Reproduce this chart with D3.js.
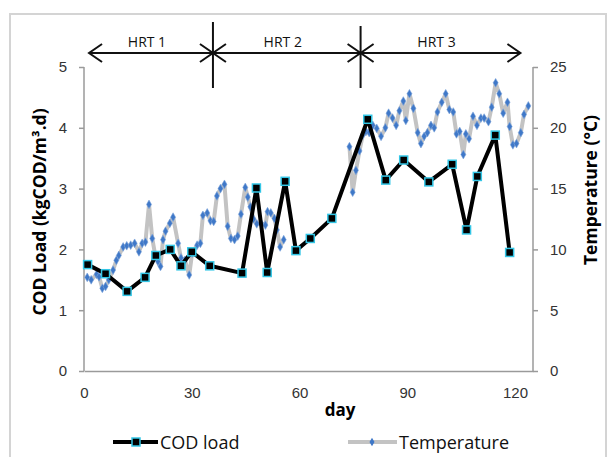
<!DOCTYPE html>
<html>
<head>
<meta charset="utf-8">
<script src="https://cdn.jsdelivr.net/npm/d3@7"></script>
<style>
  body { margin: 0; background: #fff; }
  svg { display: block; font-family: "Open Sans", "DejaVu Sans", sans-serif; }
</style>
</head>
<body>
<svg id="svg" width="608" height="457"></svg>
<script>
// COD load (kgCOD/m3.d) per sampling day
var codDays = [1, 6, 12, 17, 20, 24, 27, 30, 35, 44, 48, 51, 56, 59, 63, 69, 79, 84, 89, 96, 102.5, 106.5, 109.5, 114.5, 118.5];
var codLoad = [1.75, 1.6, 1.31, 1.54, 1.9, 2.0, 1.73, 1.96, 1.73, 1.61, 3.01, 1.62, 3.12, 1.98, 2.18, 2.51, 4.14, 3.14, 3.47, 3.11, 3.40, 2.32, 3.20, 3.88, 1.95];

// temperature (oC), null = no reading (gap in the line)
var tempDays = [0.9, 2.0, 3.5, 4.2, 5.1, 6.0, 6.9, 8.1, 9.0, 9.7, 10.9, 11.9, 13.0, 14.1, 15.3, 16.2, 17.1, 18.1, 19.0, 19.9,
  20.6, 21.3, 22.0, 22.7, 23.9, 24.8, 26.2, 27.0, 28.1, 29.3, 30.1, 31.5, 32.4, 33.1, 34.3, 35.2, 36.1, 37.0, 38.0, 39.1,
  40.0, 40.9, 41.9, 42.8, 43.7, 44.9, 45.6, 46.3, 47.2, 48.1, 49.3, 50.5, 51.1, 52.0, 53.0, 53.7, 54.6, 55.6, 65,
  73.9, 74.8, 75.7, 76.7, 77.6, 78.5, 79.4, 80.4, 81.5, 82.7, 83.9, 84.8, 85.9, 86.9, 87.8, 88.9, 89.6, 90.6, 91.7, 92.9,
  93.8, 94.7, 95.6, 96.6, 97.5, 98.4, 99.6, 100.7, 101.7, 102.8, 103.7, 104.6, 105.6, 106.3, 107.2, 108.3, 109.4, 110.5,
  111.4, 112.6, 113.5, 114.6, 115.6, 116.7, 117.9, 118.5, 119.4, 120.4, 121.6, 122.5, 123.7];
var temperature = [7.7, 7.5, 7.95, 7.75, 6.8, 6.95, 7.5, 8.3, 9.1, 9.5, 10.2, 10.3, 10.35, 10.5, 9.8, 10.5, 10.6, 13.7, 10.9, 9.4,
  9.0, 8.6, 10.8, 11.5, 12.15, 12.65, 10.5, 9.3, 9.1, 7.9, 9.7, 10.35, 10.5, 12.8, 13.0, 12.35, 12.3, 14.4, 15.0, 15.35,
  11.9, 10.9, 10.8, 11.1, 12.9, 15.1, 14.3, 13.5, 12.5, 12.1, 12.15, 12.0, 13.1, 13.0, 12.55, 11.6, 10.2, 10.8, null,
  18.45, 14.7, 16.5, 18.1, 19.4, 19.7, 19.6, 20.2, 19.95, 19.3, 20.0, 21.2, 20.8, 20.2, 21.4, 22.2, 20.6, 22.8, 21.6, 19.6,
  18.7, 19.3, 19.6, 20.2, 20.0, 21.3, 22.1, 22.8, 21.5, 21.3, 19.5, 19.7, 17.8, 19.5, 19.1, 20.95, 20.2, 20.8,
  20.8, 20.5, 21.7, 23.7, 22.8, 21.2, 22.1, 20.1, 18.6, 18.7, 19.6, 21.1, 21.8];

var dayTicks = [0, 30, 60, 90, 120];
var codTicks = [0, 1, 2, 3, 4, 5];
var tempTicks = [0, 5, 10, 15, 20, 25];

// HRT periods (day boundaries of the arrows)
var hrtNames = ["HRT 1", "HRT 2", "HRT 3"];
var hrtStart = [1.4, 35.9, 77.0];
var hrtEnd = [35.9, 77.0, 121.5];

var svg = d3.select("#svg");

var plot = { left: 84, right: 533, top: 67, bottom: 371 };

var x = d3.scaleLinear().domain([0, 125]).range([plot.left, plot.right]);
var yCod = d3.scaleLinear().domain([0, 5]).range([plot.bottom, plot.top]);
var yTemp = d3.scaleLinear().domain([0, 25]).range([plot.bottom, plot.top]);

var axisColor = "#9a9a9a",
    labelColor = "#333";

// outer frame
svg.append("rect")
    .attr("x", 10).attr("y", 14)
    .attr("width", 596).attr("height", 470)
    .attr("fill", "none")
    .attr("stroke", "#d4d4d4")
    .attr("stroke-width", 2);

/*
* axes
*/
var gx = svg.append("g")
    .attr("transform", "translate(0," + plot.bottom + ")")
    .call(d3.axisBottom(x).tickValues(dayTicks).tickSize(0).tickPadding(16));

var gl = svg.append("g")
    .attr("transform", "translate(" + plot.left + ",0)")
    .call(d3.axisLeft(yCod).tickValues(codTicks).tickFormat(d3.format("d")).tickSize(5).tickPadding(12));

var gr = svg.append("g")
    .attr("transform", "translate(" + plot.right + ",0)")
    .call(d3.axisRight(yTemp).tickValues(tempTicks).tickSize(5).tickPadding(12));

[gx, gl, gr].forEach(function(g) {
  g.select(".domain").attr("stroke", axisColor).attr("stroke-width", 1.5);
  g.selectAll(".tick line").attr("stroke", axisColor).attr("stroke-width", 1.5);
  g.selectAll(".tick text")
      .attr("fill", labelColor)
      .style("font-size", "15px");
});
gl.select(".domain").attr("d", "M0," + plot.top + "V" + plot.bottom);
gr.select(".domain").attr("d", "M0," + plot.top + "V" + plot.bottom);

// axis titles
svg.append("text")
    .attr("transform", "translate(46,212) rotate(-90)")
    .attr("text-anchor", "middle")
    .style("font-size", "17.5px")
    .style("font-weight", "bold")
    .text("COD Load (kgCOD/m³.d)");

svg.append("text")
    .attr("transform", "translate(597,190) rotate(-90)")
    .attr("text-anchor", "middle")
    .style("font-size", "17.5px")
    .style("font-weight", "bold")
    .text("Temperature (°C)");

svg.append("text")
    .attr("x", 340).attr("y", 416)
    .attr("text-anchor", "middle")
    .style("font-size", "17px")
    .style("font-weight", "bold")
    .text("day");

/*
* temperature series (drawn first, under the COD line)
*/
var tempData = tempDays.map(function(d, i) { return { day: d, v: temperature[i] }; });

var tempLine = d3.line()
    .defined(function(d) { return d.v !== null; })
    .x(function(d) { return x(d.day); })
    .y(function(d) { return yTemp(d.v); });

svg.append("path")
    .datum(tempData)
    .attr("d", tempLine)
    .attr("fill", "none")
    .attr("stroke", "#c3c3c3")
    .attr("stroke-width", 4)
    .attr("stroke-linejoin", "round");

var diamond = d3.symbol().type(d3.symbolDiamond).size(22);

svg.append("g").selectAll("path")
    .data(tempData.filter(function(d) { return d.v !== null; }))
    .enter().append("path")
    .attr("d", diamond)
    .attr("transform", function(d) { return "translate(" + x(d.day) + "," + yTemp(d.v) + ")"; })
    .attr("fill", "#3f78c8")
    .attr("stroke", "#7fa6dc")
    .attr("stroke-width", 0.6);

/*
* COD load series
*/
var codData = codDays.map(function(d, i) { return { day: d, v: codLoad[i] }; });

var codLine = d3.line()
    .x(function(d) { return x(d.day); })
    .y(function(d) { return yCod(d.v); });

svg.append("path")
    .datum(codData)
    .attr("d", codLine)
    .attr("fill", "none")
    .attr("stroke", "#000")
    .attr("stroke-width", 4)
    .attr("stroke-linejoin", "round");

svg.append("g").selectAll("rect")
    .data(codData)
    .enter().append("rect")
    .attr("x", function(d) { return x(d.day) - 4; })
    .attr("y", function(d) { return yCod(d.v) - 4; })
    .attr("width", 8).attr("height", 8)
    .attr("fill", "#000")
    .attr("stroke", "#33c6e6")
    .attr("stroke-width", 1.5);

/*
* HRT arrows on top
*/
var arrowY = 53;
var hrt = svg.append("g").attr("stroke", "#111").attr("fill", "none").attr("stroke-width", 2);

function arrowHead(px, dir) {
  // dir = +1 points right, -1 points left
  return "M" + (px - dir * 13) + "," + (arrowY - 9) + "L" + px + "," + arrowY + "L" + (px - dir * 13) + "," + (arrowY + 9);
}

hrtNames.forEach(function(name, i) {
  var x0 = x(hrtStart[i]), x1 = x(hrtEnd[i]);
  hrt.append("line").attr("x1", x0).attr("x2", x1).attr("y1", arrowY).attr("y2", arrowY);
  hrt.append("path").attr("d", arrowHead(x0, -1));
  hrt.append("path").attr("d", arrowHead(x1, 1));
  svg.append("text")
      .attr("x", (x0 + x1) / 2 - 4).attr("y", 47)
      .attr("text-anchor", "middle")
      .style("font-size", "14px")
      .attr("fill", "#111")
      .text(name);
});

// period boundaries
hrt.append("line").attr("x1", x(hrtEnd[0])).attr("x2", x(hrtEnd[0])).attr("y1", 22).attr("y2", 88);
hrt.append("line").attr("x1", x(hrtEnd[1])).attr("x2", x(hrtEnd[1])).attr("y1", 26).attr("y2", 88);

/*
* legend
*/
var legend = svg.append("g");

legend.append("line").attr("x1", 113).attr("x2", 158).attr("y1", 442).attr("y2", 442)
    .attr("stroke", "#000").attr("stroke-width", 4);
legend.append("rect").attr("x", 132).attr("y", 438).attr("width", 8).attr("height", 8)
    .attr("fill", "#000").attr("stroke", "#33c6e6").attr("stroke-width", 1.5);
legend.append("text").attr("x", 160).attr("y", 449)
    .style("font-size", "18px").attr("fill", "#111").text("COD load");

legend.append("line").attr("x1", 348).attr("x2", 397).attr("y1", 442).attr("y2", 442)
    .attr("stroke", "#c3c3c3").attr("stroke-width", 4);
legend.append("path").attr("d", diamond)
    .attr("transform", "translate(372,442)")
    .attr("fill", "#3f78c8");
legend.append("text").attr("x", 399).attr("y", 449)
    .style("font-size", "18px").attr("fill", "#111").text("Temperature");
</script>
</body>
</html>
